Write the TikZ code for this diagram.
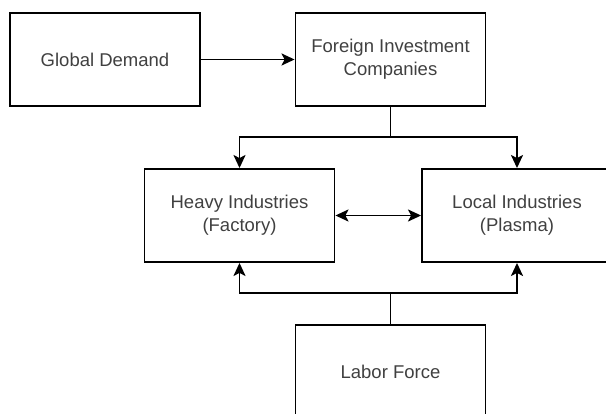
\documentclass[tikz,border=0pt]{standalone}
\usepackage{fontspec}
\setmainfont{Liberation Sans}
\usetikzlibrary{arrows.meta}

\definecolor{txtgray}{RGB}{64,64,64}

\begin{document}
\begin{tikzpicture}[x=1pt,y=-1pt,line width=1.9pt,
        >={Stealth[length=13pt,width=12pt,inset=3pt]},
        box/.style={draw,minimum width=190pt,minimum height=93pt,
            align=center,text=txtgray,font=\fontsize{18.5}{23}\selectfont}]
        \useasboundingbox (0,0) rectangle (606,414);
        \clip (0,0) rectangle (606,414);

        \node[box] (gd)    at (105,59.5)    {Global Demand};
        \node[box] (fic)   at (390.5,59.5)  {Foreign Investment\\Companies};
        \node[box] (heavy) at (239.5,215.5) {Heavy Industries\\(Factory)};
        \node[box] (local) at (517,215.5)   {Local Industries\\(Plasma)};
        \node[box] (labor) at (390.5,371.5) {Labor Force};

        \coordinate (split) at (390.5,137);
        \coordinate (join)  at (390.5,293);

        \draw[->] (gd) -- (fic);

        \draw (fic) -- (split);
        \draw[->] (split) -| (heavy);
        \draw[->] (split) -| (local);

        \draw[<->] (heavy) -- (local);

        \draw (labor) -- (join);
        \draw[->] (join) -| (heavy);
        \draw[->] (join) -| (local);
    \end{tikzpicture}
\end{document}
